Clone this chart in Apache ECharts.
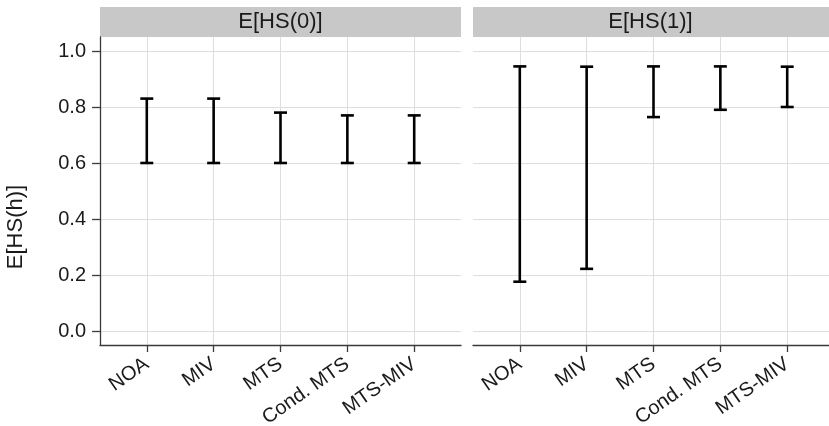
<!DOCTYPE html>
<html>
<head>
<meta charset="utf-8">
<script src="https://cdn.jsdelivr.net/npm/echarts@6/dist/echarts.min.js"></script>
<style>
  html, body { margin: 0; padding: 0; background: #ffffff; }
  #chart { width: 829px; height: 426px; }
</style>
</head>
<body>
<div id="chart"></div>
<script>
// Estimators on the x axis, shared by both facets
const categories = ['NOA', 'MIV', 'MTS', 'Cond. MTS', 'MTS-MIV'];
// Facet titles
const panels = ['E[HS(0)]', 'E[HS(1)]'];
// Interval bounds for E[HS(0)]
const lowHS0 = [0.600, 0.600, 0.600, 0.600, 0.600];
const highHS0 = [0.830, 0.830, 0.780, 0.770, 0.770];
// Interval bounds for E[HS(1)]
const lowHS1 = [0.176, 0.222, 0.764, 0.790, 0.800];
const highHS1 = [0.945, 0.944, 0.945, 0.945, 0.944];
// Y tick labels
const yTicks = [0.0, 0.2, 0.4, 0.6, 0.8, 1.0];

const FONT = 'Liberation Sans, Arial, Helvetica, sans-serif';
const panelLeft = [100, 473];
const panelWidth = 361;
const panelTop = 37;
const panelBottom = 81;

function rows(low, high) {
  return categories.map((c, i) => [i, low[i], high[i]]);
}

// Error bar: vertical segment with a short cap at each end
function renderErrorBar(params, api) {
  const x = api.value(0);
  const lo = api.coord([x, api.value(1)]);
  const hi = api.coord([x, api.value(2)]);
  const w = 6.5;
  const style = { stroke: '#000000', lineWidth: 2.6 };
  return {
    type: 'group',
    children: [
      { type: 'line', shape: { x1: lo[0], y1: lo[1], x2: hi[0], y2: hi[1] }, style },
      { type: 'line', shape: { x1: lo[0] - w, y1: lo[1], x2: lo[0] + w, y2: lo[1] }, style },
      { type: 'line', shape: { x1: hi[0] - w, y1: hi[1], x2: hi[0] + w, y2: hi[1] }, style }
    ]
  };
}

const catIdx = categories.map((c, i) => i);

function xAxisFor(gridIndex) {
  return {
    type: 'value',
    gridIndex,
    min: -0.7,
    max: categories.length - 1 + 0.7,
    axisLine: { show: true, onZero: false, lineStyle: { color: '#3a3a3a', width: 1.3 } },
    axisTick: { show: true, customValues: catIdx, length: 7, lineStyle: { color: '#3a3a3a', width: 1.3 } },
    axisLabel: {
      customValues: catIdx,
      formatter: v => categories[Math.round(v)] || '',
      rotate: 35,
      margin: 17,
      fontFamily: FONT,
      fontSize: 20,
      color: '#1a1a1a'
    },
    splitLine: { show: true, lineStyle: { color: '#dedede', width: 1 } }
  };
}

function yAxisFor(gridIndex, showAxis) {
  return {
    type: 'value',
    gridIndex,
    min: -0.05,
    max: 1.05,
    axisLine: { show: showAxis, onZero: false, lineStyle: { color: '#3a3a3a', width: 1.3 } },
    axisTick: { show: showAxis, customValues: yTicks, length: 8, lineStyle: { color: '#3a3a3a', width: 1.3 } },
    axisLabel: {
      show: showAxis,
      customValues: yTicks,
      formatter: v => v.toFixed(1),
      margin: 14,
      fontFamily: FONT,
      fontSize: 20,
      color: '#1a1a1a'
    },
    splitLine: { show: true, lineStyle: { color: '#dedede', width: 1 } }
  };
}

const graphics = [];
panels.forEach((name, i) => {
  graphics.push({
    type: 'rect',
    left: panelLeft[i], top: 7,
    shape: { width: panelWidth, height: 30 },
    style: { fill: '#c8c8c8' },
    z: 0
  });
  graphics.push({
    type: 'text',
    x: panelLeft[i] + panelWidth / 2 - (i === 1 ? 3 : 0),
    y: 22,
    style: {
      text: name,
      fontFamily: FONT,
      fontSize: 22,
      fill: '#1a1a1a',
      align: 'center',
      verticalAlign: 'middle'
    },
    z: 1
  });
});
graphics.push({
  type: 'text',
  x: 16, y: 227,
  rotation: Math.PI / 2,
  style: {
    text: 'E[HS(h)]',
    fontFamily: FONT,
    fontSize: 22,
    fill: '#1a1a1a',
    align: 'center',
    verticalAlign: 'middle'
  }
});

const chart = echarts.init(document.getElementById('chart'), null, { renderer: 'canvas' });
chart.setOption({
  animation: false,
  backgroundColor: '#ffffff',
  grid: panelLeft.map(left => ({
    left, width: panelWidth, top: panelTop, bottom: panelBottom,
    containLabel: false, outerBoundsMode: 'none'
  })),
  xAxis: [xAxisFor(0), xAxisFor(1)],
  yAxis: [yAxisFor(0, true), yAxisFor(1, false)],
  series: [
    {
      name: panels[0], type: 'custom', xAxisIndex: 0, yAxisIndex: 0,
      renderItem: renderErrorBar, encode: { x: 0, y: [1, 2] },
      data: rows(lowHS0, highHS0), clip: false
    },
    {
      name: panels[1], type: 'custom', xAxisIndex: 1, yAxisIndex: 1,
      renderItem: renderErrorBar, encode: { x: 0, y: [1, 2] },
      data: rows(lowHS1, highHS1), clip: false
    }
  ],
  graphic: graphics
});
</script>
</body>
</html>
